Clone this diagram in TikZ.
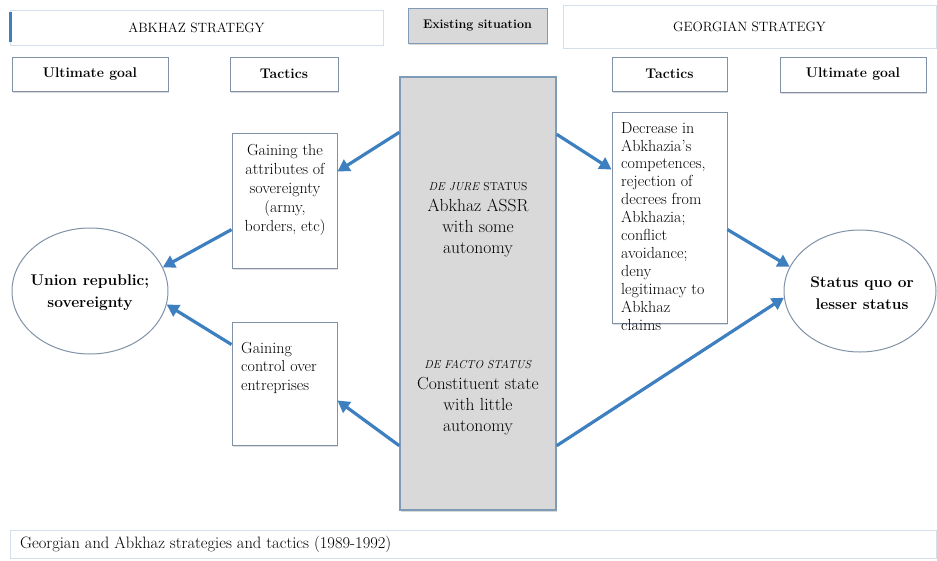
\documentclass[tikz,border=0pt]{standalone}
\usepackage{tikz}
\usetikzlibrary{arrows.meta, positioning, calc, shapes.geometric, shadows}
\definecolor{linkblue}{HTML}{3D7FBF}
\definecolor{boxedge}{HTML}{8192A8}
\definecolor{statusgrey}{HTML}{D9D9D9}
\definecolor{statusedge}{HTML}{7E9BB8}
\definecolor{faintedge}{HTML}{D5DFEA}
\newcommand{\fs}[2]{\fontsize{#1}{#2}\selectfont}

\begin{document}
\begin{tikzpicture}[x=1pt, y=-1pt,
    bar/.style={draw=faintedge, line width=0.8pt, fill=white, inner sep=0pt, font=\fs{13.5}{16}},
    headbox/.style={draw=boxedge, line width=1pt, fill=white, inner sep=0pt,
      font=\fs{14}{16}\bfseries,
      drop shadow={shadow xshift=1pt, shadow yshift=-1.5pt, opacity=0.3}},
    tacbox/.style={draw=boxedge, line width=0.9pt, fill=white, inner sep=0pt,
      drop shadow={shadow xshift=1pt, shadow yshift=-1.5pt, opacity=0.25}},
    tactext/.style={inner sep=0pt, font=\fs{16}{19}},
    goal/.style={ellipse, draw=boxedge, line width=1pt, fill=white, inner sep=0pt},
    goaltext/.style={inner sep=0pt, align=center, font=\fs{15.5}{22}\bfseries},
    link/.style={linkblue, line width=3.2pt, -{Triangle[length=12pt, width=13pt]}}]
  \useasboundingbox (0,0) rectangle (937,560);

  \node[bar, minimum width=373pt, minimum height=35pt] (abkbar) at (196.5,27.5) {ABKHAZ STRATEGY};
  \draw[linkblue, line width=3pt] ([xshift=1pt, yshift=-2pt]abkbar.north west)
    -- ([xshift=1pt, yshift=3pt]abkbar.south west);
  \node[draw=statusedge, line width=1pt, fill=statusgrey, inner sep=0pt,
    minimum width=139pt, minimum height=35pt, font=\fs{12.5}{14}\bfseries,
    drop shadow={shadow xshift=1pt, shadow yshift=-1.5pt, opacity=0.3}]
    (exist) at (477.5,25.5) {Existing situation};
  \node[bar, minimum width=373pt, minimum height=43pt, font=\fs{13.5}{16}] (geobar) at (749.5,26.5) {GEORGIAN STRATEGY};

  \node[headbox, minimum width=156pt, minimum height=34pt] (ultl) at (90,74) {Ultimate goal};
  \node[headbox, minimum width=108pt, minimum height=34pt] (tacl) at (284,74) {Tactics};
  \node[headbox, minimum width=115pt, minimum height=34pt] (tacr) at (669.5,74) {Tactics};
  \node[headbox, minimum width=146pt, minimum height=35pt] (ultr) at (853,74.5) {Ultimate goal};

  \node[draw=statusedge, line width=1.4pt, fill=statusgrey, minimum width=156pt, minimum height=433pt,
    drop shadow={shadow xshift=1pt, shadow yshift=-1.5pt, opacity=0.3}] (grey) at (478,293.5) {};
  \node[align=center, font=\fs{17.5}{21}] (dejure) at (478,220)
    {{\fs{11.5}{21}\textit{DE JURE} STATUS}\\Abkhaz ASSR\\with some\\autonomy};
  \node[align=center, font=\fs{17.5}{21}] (defacto) at (478,398)
    {{\fs{11.5}{21}\textit{DE FACTO STATUS}}\\Constituent state\\with little\\autonomy};

  \node[tacbox, minimum width=105pt, minimum height=135pt] (tacup) at (284.5,200.5) {};
  \node[tactext, align=center] (tacuptxt) at (285,190)
    {Gaining the\\attributes of\\sovereignty\\(army,\\borders, etc)};
  \node[tacbox, minimum width=105pt, minimum height=123pt] (taclow) at (284.5,383.5) {};
  \node[tactext, align=left, anchor=north west, font=\fs{16}{18.5}] (taclowtxt) at (241,342)
    {Gaining\\control over\\entreprises};
  \node[tacbox, minimum width=115pt, minimum height=211pt] (tacdec) at (669.5,217.5) {};
  \node[tactext, align=left, anchor=north west, font=\fs{16}{17.9}] (tacdectxt) at (621,122)
    {Decrease in\\Abkhazia's\\competences,\\rejection of\\decrees from\\Abkhazia;\\conflict\\avoidance;\\deny\\legitimacy to\\Abkhaz\\claims};

  \node[goal, minimum width=156pt, minimum height=126pt] (lell) at (90,291) {};
  \node[goaltext] (lelltxt) at (90,293) {Union republic;\\sovereignty};
  \node[goal, minimum width=152pt, minimum height=122pt] (rell) at (860,291) {};
  \node[goaltext] (relltxt) at (862,293) {Status quo or\\lesser status};

  \node[draw=faintedge, line width=1pt, fill=white, minimum width=926pt, minimum height=28pt] (caption) at (473,544) {};
  \node[anchor=west, inner sep=0pt, font=\fs{16.5}{18}] (captiontxt) at (20,544)
    {Georgian and Abkhaz strategies and tactics (1989-1992)};

  \draw[link] ([yshift=-56pt]grey.north west) -- ([yshift=-39pt]tacup.north east);
  \draw[link] ([yshift=-97pt]tacup.north west) -- (lell.18);
  \draw[link] ([yshift=65pt]grey.south west) -- ([yshift=45pt]taclow.south east);
  \draw[link] ([yshift=-23pt]taclow.north west) -- (lell.-10);
  \draw[link] ([yshift=-58pt]grey.north east) -- ([yshift=-58pt]tacdec.north west);
  \draw[link] ([yshift=-118pt]tacdec.north east) -- (rell.161);
  \draw[link] ([yshift=65pt]grey.south east) -- (rell.185);
\end{tikzpicture}
\end{document}
